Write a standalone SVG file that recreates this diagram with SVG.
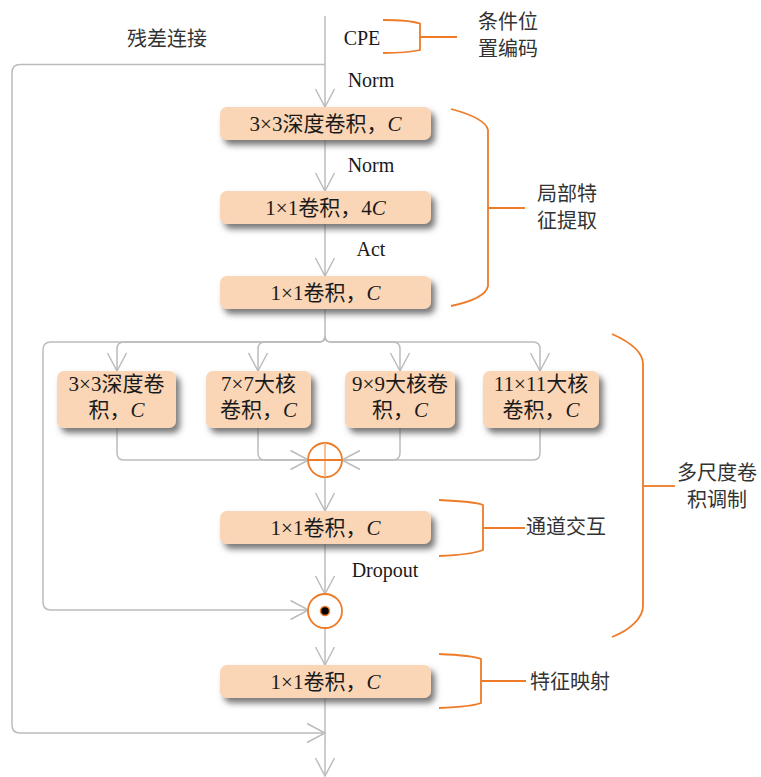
<svg xmlns="http://www.w3.org/2000/svg" width="761" height="777" viewBox="0 0 761 777">
<defs>
<style>
.bx{fill:#fad6b6;}
.t{font-family:"Liberation Serif","Times New Roman","Noto Sans CJK SC",serif;font-size:20px;fill:#1a1a1a;text-anchor:middle;}
.b{font-size:21px;}
.lb{font-family:"Noto Sans CJK SC","Liberation Sans",sans-serif;font-size:20px;fill:#333;text-anchor:middle;}
.i{font-style:italic;}
.cn{fill:none;stroke:#bcbcbc;stroke-width:1.5;}
.or{fill:none;stroke:#ee7b27;stroke-width:1.8;}
</style>
<filter id="sh" x="-20%" y="-30%" width="150%" height="190%">
<feDropShadow dx="4" dy="5" stdDeviation="3.2" flood-color="#555" flood-opacity="0.8"/>
</filter>
<marker id="ar" markerUnits="userSpaceOnUse" viewBox="-20 -11 22 22" refX="0" refY="0" markerWidth="22" markerHeight="22" orient="auto">
<path d="M-18,-9.5 L0,0 L-18,9.5" fill="none" stroke="#bcbcbc" stroke-width="1.5"/>
</marker>
</defs>

<g id="connectors">
<path class="cn" d="M325,16 V107" marker-end="url(#ar)"/>
<path class="cn" d="M325,64.5 H20 Q12,64.5 12,72.5 V725 Q12,733 20,733 H325" marker-end="url(#ar)"/>
<path class="cn" d="M325,140 V191" marker-end="url(#ar)"/>
<path class="cn" d="M325,224 V276" marker-end="url(#ar)"/>
<path class="cn" d="M325,309 V336 Q325,342 319,342 H51 Q43,342 43,350 V602 Q43,610 51,610 H308.5" marker-end="url(#ar)"/>
<path class="cn" d="M325,336 Q325,342 319,342 H124 Q117,342 117,349 V371" marker-end="url(#ar)"/>
<path class="cn" d="M325,336 Q325,342 319,342 H265 Q258,342 258,349 V371" marker-end="url(#ar)"/>
<path class="cn" d="M325,336 Q325,342 331,342 H393 Q400,342 400,349 V371" marker-end="url(#ar)"/>
<path class="cn" d="M325,336 Q325,342 331,342 H533 Q540,342 540,349 V371" marker-end="url(#ar)"/>
<path class="cn" d="M117,428 V453 Q117,460 124,460 H308.5" marker-end="url(#ar)"/>
<path class="cn" d="M258,428 V453 Q258,460 265,460 H308.5"/>
<path class="cn" d="M540,428 V453 Q540,460 533,460 H342" marker-end="url(#ar)"/>
<path class="cn" d="M400,428 V453 Q400,460 393,460 H342"/>
<path class="cn" d="M325,477 V511" marker-end="url(#ar)"/>
<path class="cn" d="M325,544 V594" marker-end="url(#ar)"/>
<path class="cn" d="M325,628 V665" marker-end="url(#ar)"/>
<path class="cn" d="M325,698 V776" marker-end="url(#ar)"/>
</g>

<g id="labels-edges">
<text class="lb" x="167" y="46">残差连接</text>
<text class="t" x="362" y="45">CPE</text>
<text class="t" x="371" y="87">Norm</text>
<text class="t" x="371" y="172">Norm</text>
<text class="t" x="371" y="256">Act</text>
<text class="t" x="385" y="577">Dropout</text>
</g>

<g id="box1"><rect class="bx" x="220" y="107" width="211" height="33" rx="7" filter="url(#sh)"/><text class="t b" x="325.5" y="131">3×3深度卷积，<tspan class="i">C</tspan></text></g>
<g id="box2"><rect class="bx" x="220" y="191" width="211" height="33" rx="7" filter="url(#sh)"/><text class="t b" x="325.5" y="215">1×1卷积，4<tspan class="i">C</tspan></text></g>
<g id="box3"><rect class="bx" x="220" y="276" width="211" height="33" rx="7" filter="url(#sh)"/><text class="t b" x="325.5" y="300">1×1卷积，<tspan class="i">C</tspan></text></g>

<g id="boxA"><rect class="bx" x="57" y="371" width="119" height="57" rx="7" filter="url(#sh)"/><text class="t b" x="116.5" y="391">3×3深度卷</text><text class="t b" x="116.5" y="417">积，<tspan class="i">C</tspan></text></g>
<g id="boxB"><rect class="bx" x="206" y="371" width="105" height="57" rx="7" filter="url(#sh)"/><text class="t b" x="258.5" y="391">7×7大核</text><text class="t b" x="258.5" y="417">卷积，<tspan class="i">C</tspan></text></g>
<g id="boxC"><rect class="bx" x="345" y="371" width="110" height="57" rx="7" filter="url(#sh)"/><text class="t b" x="400" y="391">9×9大核卷</text><text class="t b" x="400" y="417">积，<tspan class="i">C</tspan></text></g>
<g id="boxD"><rect class="bx" x="483" y="371" width="116" height="57" rx="7" filter="url(#sh)"/><text class="t b" x="541" y="391">11×11大核</text><text class="t b" x="541" y="417">卷积，<tspan class="i">C</tspan></text></g>

<g id="add">
<circle cx="325" cy="460" r="17" fill="#fff" stroke="#ee7b27" stroke-width="1.8"/>
<line x1="325" y1="443" x2="325" y2="477" stroke="#f7b98c" stroke-width="1.8"/>
<line x1="308" y1="460" x2="342" y2="460" stroke="#ee7b27" stroke-width="1.8"/>
</g>

<g id="box4"><rect class="bx" x="220" y="511" width="211" height="33" rx="7" filter="url(#sh)"/><text class="t b" x="325.5" y="535">1×1卷积，<tspan class="i">C</tspan></text></g>

<g id="mul">
<circle cx="325" cy="611" r="17" fill="#fff" stroke="#ee7b27" stroke-width="1.8"/>
<circle cx="325" cy="611" r="4.5" fill="#000" stroke="#ee7b27" stroke-width="1.5"/>
</g>

<g id="box5"><rect class="bx" x="220" y="665" width="211" height="33" rx="7" filter="url(#sh)"/><text class="t b" x="325.5" y="689">1×1卷积，<tspan class="i">C</tspan></text></g>

<g id="brace-cpe">
<path class="or" d="M383,20 C400,20 412,21 420,23.5 V50 C412,52 400,53 383,53"/>
<path class="or" d="M420,37 H457"/>
<text class="lb" x="508" y="29">条件位</text>
<text class="lb" x="508" y="56">置编码</text>
</g>
<g id="brace-local">
<path class="or" d="M451,109 C470,114 486,121 488,130 V286 C486,296 470,302 451,306"/>
<path class="or" d="M488,208 H525"/>
<text class="lb" x="567" y="201">局部特</text>
<text class="lb" x="567" y="228">征提取</text>
</g>
<g id="brace-multi">
<path class="or" d="M612,334 C630,342 643,352 643,364 V606 C643,618 630,630 612,637"/>
<path class="or" d="M643,486 H675"/>
<text class="lb" x="717" y="480">多尺度卷</text>
<text class="lb" x="717" y="507">积调制</text>
</g>
<g id="brace-channel">
<path class="or" d="M439,500 C462,501 476,502 483,505 V550 C476,553 462,555 439,556"/>
<path class="or" d="M483,528 H525"/>
<text class="lb" x="566" y="534">通道交互</text>
</g>
<g id="brace-map">
<path class="or" d="M439,654 C462,655 474,656 481,659 V703 C474,706 462,707 439,708"/>
<path class="or" d="M481,681 H526"/>
<text class="lb" x="570" y="689">特征映射</text>
</g>
</svg>
